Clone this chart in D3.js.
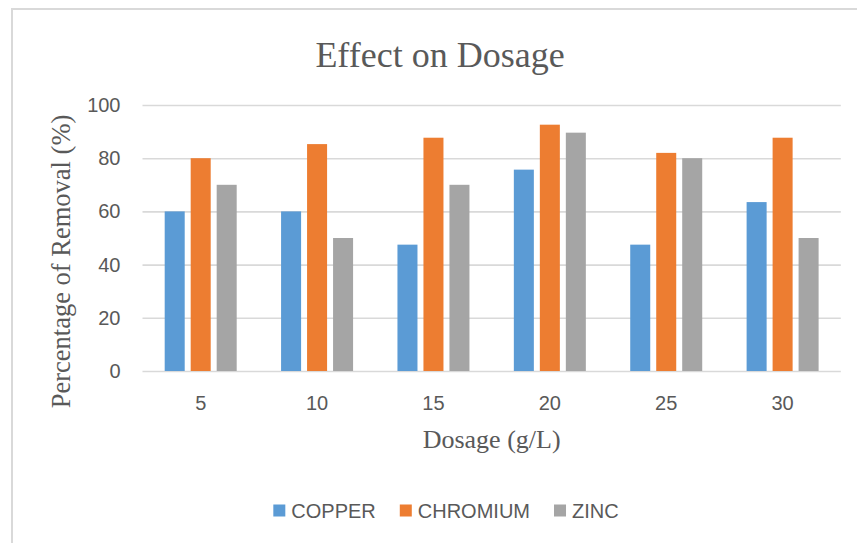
<!DOCTYPE html>
<html>
<head>
<meta charset="utf-8">
<script src="https://cdn.jsdelivr.net/npm/d3@7"></script>
<style>
  body { margin: 0; background: #fff; }
  svg { display: block; }
</style>
</head>
<body>
<div id="chart"></div>
<script>
// values
const dosages = ["5", "10", "15", "20", "25", "30"];
const seriesNames = ["COPPER", "CHROMIUM", "ZINC"];
const copper = [60, 60, 47.5, 75.7, 47.5, 63.5];
const chromium = [80, 85.3, 87.7, 92.6, 82, 87.7];
const zinc = [70, 50, 70, 89.6, 80, 50];
const yTicks = [0, 20, 40, 60, 80, 100];
const colors = ["#5b9bd5", "#ed7d31", "#a5a5a5"];

const width = 857, height = 543;
const plotLeft = 142.5, plotRight = 840.8, plotTop = 105, plotBottom = 371;
const textGrey = "#595959";

const svg = d3.select("#chart").append("svg")
    .attr("width", width).attr("height", height);

// chart area border (only top and left visible in the crop)
svg.append("rect")
    .attr("x", 12).attr("y", 9)
    .attr("width", 900).attr("height", 600)
    .attr("fill", "#fff")
    .attr("stroke", "#d9d9d9").attr("stroke-width", 2);

const x = d3.scaleBand().domain(dosages).range([plotLeft, plotRight]);
const x1 = d3.scaleBand().domain(seriesNames).range([0, 72]).paddingInner(0.23);
const y = d3.scaleLinear().domain([0, 100]).range([plotBottom, plotTop]);

// gridlines + y labels
const yAxis = svg.append("g")
    .attr("transform", `translate(${plotLeft},0)`)
    .call(d3.axisLeft(y).tickValues(yTicks).tickSize(-(plotRight - plotLeft)).tickPadding(22));
yAxis.select(".domain").remove();
yAxis.selectAll("line").attr("stroke", "#d9d9d9").attr("stroke-width", 1.6);
yAxis.selectAll("text")
    .attr("fill", textGrey)
    .style("font-family", "'Liberation Sans', Arial, sans-serif")
    .style("font-size", "20px");

// x labels
const xAxis = svg.append("g")
    .attr("transform", `translate(0,${plotBottom})`)
    .call(d3.axisBottom(x).tickSize(0).tickPadding(25));
xAxis.select(".domain").remove();
xAxis.selectAll("text")
    .attr("fill", textGrey)
    .style("font-family", "'Liberation Sans', Arial, sans-serif")
    .style("font-size", "20px");

// bars
const rows = dosages.map((d, i) => ({
    dosage: d,
    values: [copper[i], chromium[i], zinc[i]].map((v, j) => ({ key: seriesNames[j], value: v, color: colors[j] }))
}));

const groups = svg.append("g")
    .selectAll("g")
    .data(rows)
    .enter().append("g")
    .attr("transform", d => `translate(${x(d.dosage) + (x.bandwidth() - 72) / 2},0)`);

groups.selectAll("rect")
    .data(d => d.values)
    .enter().append("rect")
    .attr("x", d => x1(d.key))
    .attr("y", d => y(d.value))
    .attr("width", x1.bandwidth())
    .attr("height", d => y(0) - y(d.value))
    .attr("fill", d => d.color);

// titles
svg.append("text")
    .attr("x", 440).attr("y", 67)
    .attr("text-anchor", "middle")
    .attr("fill", textGrey)
    .style("font-family", "'Liberation Serif', 'Times New Roman', serif")
    .style("font-size", "36px")
    .text("Effect on Dosage");

svg.append("text")
    .attr("transform", `translate(70,${(plotTop + 8 + 410) / 2}) rotate(-90)`)
    .attr("text-anchor", "middle")
    .attr("fill", textGrey)
    .style("font-family", "'Liberation Serif', 'Times New Roman', serif")
    .style("font-size", "26.5px")
    .text("Percentage of Removal (%)");

svg.append("text")
    .attr("x", (plotLeft + plotRight) / 2).attr("y", 448)
    .attr("text-anchor", "middle")
    .attr("fill", textGrey)
    .style("font-family", "'Liberation Serif', 'Times New Roman', serif")
    .style("font-size", "26px")
    .text("Dosage (g/L)");

// legend
const legend = svg.append("g");
const items = legend.selectAll("g")
    .data(seriesNames)
    .enter().append("g");
items.append("rect")
    .attr("x", 0).attr("y", 504.5)
    .attr("width", 12).attr("height", 12)
    .attr("fill", (d, i) => colors[i]);
items.append("text")
    .attr("x", 18).attr("y", 517.5)
    .attr("fill", textGrey)
    .style("font-family", "'Liberation Sans', Arial, sans-serif")
    .style("font-size", "20px")
    .text(d => d);

let cursor = 0;
items.each(function () {
    const w = 18 + d3.select(this).select("text").node().getComputedTextLength();
    d3.select(this).attr("transform", `translate(${cursor},0)`);
    cursor += w + 24;
});
const total = cursor - 24;
legend.attr("transform", `translate(${446 - total / 2},0)`);
</script>
</body>
</html>
